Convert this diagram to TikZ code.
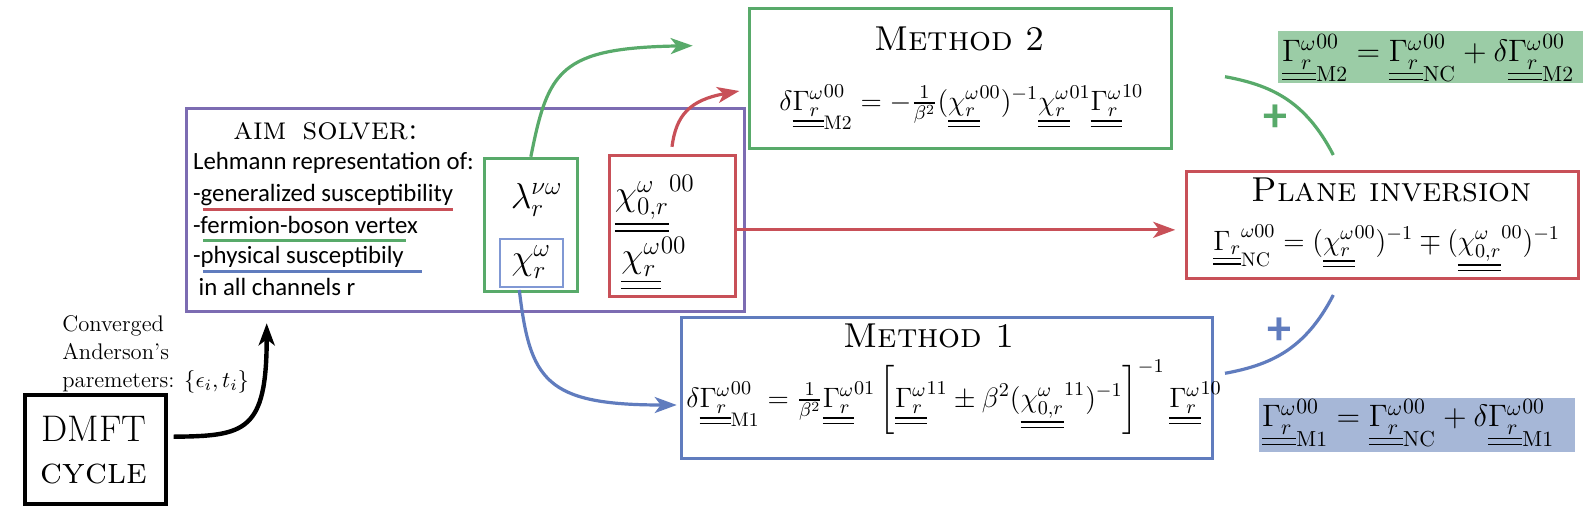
\RequirePackage{fix-cm}
\documentclass[tikz,border=0pt]{standalone}
\usepackage{amsmath}
\usepackage{fontspec}
\newfontfamily\carlito{Carlito}
\usetikzlibrary{arrows.meta,fit}
\definecolor{cgreen}{RGB}{88,170,106}
\definecolor{cred}{RGB}{200,80,88}
\definecolor{cblue}{RGB}{96,124,190}
\definecolor{cpurple}{RGB}{124,108,178}
\definecolor{lblue}{RGB}{128,152,212}
\definecolor{fgreen}{RGB}{155,204,166}
\definecolor{fblue}{RGB}{166,183,215}
\newcommand{\uu}[1]{\underline{\underline{#1}}}
\begin{document}
\begin{tikzpicture}[x={(0.5pt,0)},y={(0,-0.5pt)},
  frame/.style={draw=#1,line width=1.5pt,inner sep=0pt},
  shadebox/.style={fill=#1,draw=none,inner sep=0pt},
  link/.style={draw=#1,line width=1.6pt},
  tip/.style={-{Stealth[length=11pt,width=8pt,inset=3pt]}},
  ttl/.style={font=\fontsize{17.28}{21}\selectfont,anchor=base,inner sep=0pt},
  eq/.style={font=\fontsize{14}{17}\selectfont,anchor=base west,inner sep=0pt},
  bigeq/.style={font=\fontsize{15.5}{19}\selectfont,anchor=base west,inner sep=0pt},
  sym/.style={font=\fontsize{18}{22}\selectfont,inner sep=0pt},
  lehm/.style={font=\carlito\fontsize{12.4}{15}\selectfont,anchor=base west,inner sep=0pt},
  conv/.style={font=\fontsize{11.3}{14}\selectfont,anchor=base west,inner sep=0pt},
  plus/.style={font=\carlito\bfseries\fontsize{24}{28}\selectfont,inner sep=0pt}]
\fill[white] (0,0) rectangle (1589,530);
\useasboundingbox (0,0) rectangle (1589,530);

% boxes
\node[frame=black,line width=2pt,fit={(25,395) (165.7,504)}] (dmft) {};
\node[frame=cpurple,fit={(186.7,108.5) (744,311.7)}] (aim) {};
\node[frame=cgreen,fit={(484,158.3) (577.7,291.7)}] (greenbox) {};
\node[frame=lblue,line width=1pt,fit={(500,239.3) (562.7,286.7)}] (chibox) {};
\node[frame=cred,fit={(609,155.7) (735,296)}] (redbox) {};
\node[frame=cgreen,fit={(749.3,8.3) (1171.7,148.3)}] (m2) {};
\node[frame=cblue,fit={(681,317.5) (1212.3,458.3)}] (m1) {};
\node[frame=cred,fit={(1186.7,171.5) (1578.3,278.8)}] (plane) {};
\node[shadebox=fgreen,fit={(1278.3,30.7) (1583.3,82.7)}] (res2) {};
\node[shadebox=fblue,fit={(1259.3,398.3) (1575,451.7)}] (res1) {};

% DMFT
\node[anchor=base,inner sep=0pt,font=\fontsize{18.5}{22}\selectfont] (dmftt) at (94,441.7) {DMFT};
\node[anchor=base,inner sep=0pt,font=\fontsize{18.5}{22}\selectfont] (cyct) at (94,483.3) {\textsc{cycle}};
\node[conv] (cv1) at (62,331) {Converged};
\node[conv] (cv2) at (62,359) {Anderson's};
\node[conv] (cv3) at (62,387) {paremeters: $\{\epsilon_i,t_i\}$};

% AIM solver
\node[anchor=base,inner sep=0pt,font=\fontsize{16}{19}\selectfont] (aimt) at (325.8,139.3) {\textsc{aim}\hspace{0.2em} \textsc{solver:}};
\node[lehm] (l1) at (192.7,169) {Lehmann representation of:};
\node[lehm] (l2) at (192.7,201) {-generalized susceptibility};
\node[lehm] (l3) at (192.7,233.3) {-fermion-boson vertex};
\node[lehm] (l4) at (192.7,263.3) {-physical susceptibily};
\node[lehm] (l5) at (192.7,295) {\ in all channels r};
\draw[cred,line width=1.5pt] (203.3,209) -- (452.7,209);
\draw[cgreen,line width=1.5pt] (203.3,240.7) -- (406,240.7);
\draw[cblue,line width=1.5pt] (203.3,271.7) -- (421.7,271.7);

\node[sym] (lam) at (536.7,200) {$\lambda_r^{\nu\omega}$};
\node[sym] (chi) at (531.3,262) {$\chi_r^{\omega}$};
\node[sym] (chi0) at (654.8,204) {$\uu{\chi_{0,r}^{\omega}}^{00}$};
\node[sym] (chir) at (654,263.7) {$\uu{\chi_r^{\omega}}^{00}$};

% Method 2
\node[ttl] (m2t) at (959.5,50.7) {\textsc{Method 2}};
\node[eq] (m2e) at (779,110) {$\delta\uu{\Gamma_r^{\omega}}^{00}_{\mathrm{M2}} = -\frac{1}{\beta^2}(\uu{\chi_r^{\omega}}^{00})^{-1}\uu{\chi_r^{\omega}}^{01}\uu{\Gamma_r^{\omega}}^{10}$};

% Method 1
\node[ttl] (m1t) at (929,347.5) {\textsc{Method 1}};
\node[eq] (m1e) at (686,407) {$\delta\uu{\Gamma_r^{\omega}}^{00}_{\mathrm{M1}} = \frac{1}{\beta^2}\uu{\Gamma_r^{\omega}}^{01}\left[\uu{\Gamma_r^{\omega}}^{11} \pm \beta^2(\uu{\chi_{0,r}^{\omega}}^{11})^{-1}\right]^{-1}\uu{\Gamma_r^{\omega}}^{10}$};

% Plane inversion
\node[ttl] (pt) at (1391.7,201.7) {\textsc{Plane inversion}};
\node[eq] (pe) at (1213,250) {$\uu{\Gamma_r}^{\omega 00}_{\mathrm{NC}} = (\uu{\chi_r^{\omega}}^{00})^{-1} \mp (\uu{\chi_{0,r}^{\omega}}^{00})^{-1}$};

% results
\node[bigeq] (r2e) at (1281.7,61.7) {$\uu{\Gamma_r^{\omega}}^{00}_{\mathrm{M2}} = \uu{\Gamma_r^{\omega}}^{00}_{\mathrm{NC}} + \delta\uu{\Gamma_r^{\omega}}^{00}_{\mathrm{M2}}$};
\node[bigeq] (r1e) at (1261.7,426.7) {$\uu{\Gamma_r^{\omega}}^{00}_{\mathrm{M1}} = \uu{\Gamma_r^{\omega}}^{00}_{\mathrm{NC}} + \delta\uu{\Gamma_r^{\omega}}^{00}_{\mathrm{M1}}$};

\node[plus,text=cgreen] (p2) at (1275,118.3) {+};
\node[plus,text=cblue] (p1) at (1279,331) {+};

% connector end points
\coordinate (aimin) at (266.7,323.3);
\coordinate (m2in) at (692.7,45.7);
\coordinate (m2inb) at (739.3,91);
\coordinate (blstart) at (519.3,290);
\coordinate (m1in) at (676.7,405);
\coordinate (g1) at (1225,76.7);
\coordinate (g2) at (1333.3,155);
\coordinate (b1) at (1225,373.3);
\coordinate (b2) at (1333.3,295);

% connectors
\draw[link=black,line width=2.2pt,tip] ([xshift=3pt,yshift=6.4pt]dmft.east) .. controls (245,436) and (266.7,432) .. (aimin);
\draw[link=cgreen,tip] (greenbox.north) .. controls (548,70) and (560,48) .. (m2in);
\draw[link=cred,tip] ([yshift=3.7pt]redbox.north) .. controls (676,115) and (690,100) .. (m2inb);
\draw[link=cred,tip,shorten >=5pt] ([yshift=-2pt]redbox.east) -- ([yshift=-2pt]redbox.east -| plane.west);
\draw[link=cblue,tip] (blstart) .. controls (530,380) and (545,405) .. (m1in);
\draw[link=cgreen] (g1) .. controls (1270,85) and (1305,100) .. (g2);
\draw[link=cblue] (b1) .. controls (1270,365) and (1305,350) .. (b2);
\end{tikzpicture}
\end{document}
